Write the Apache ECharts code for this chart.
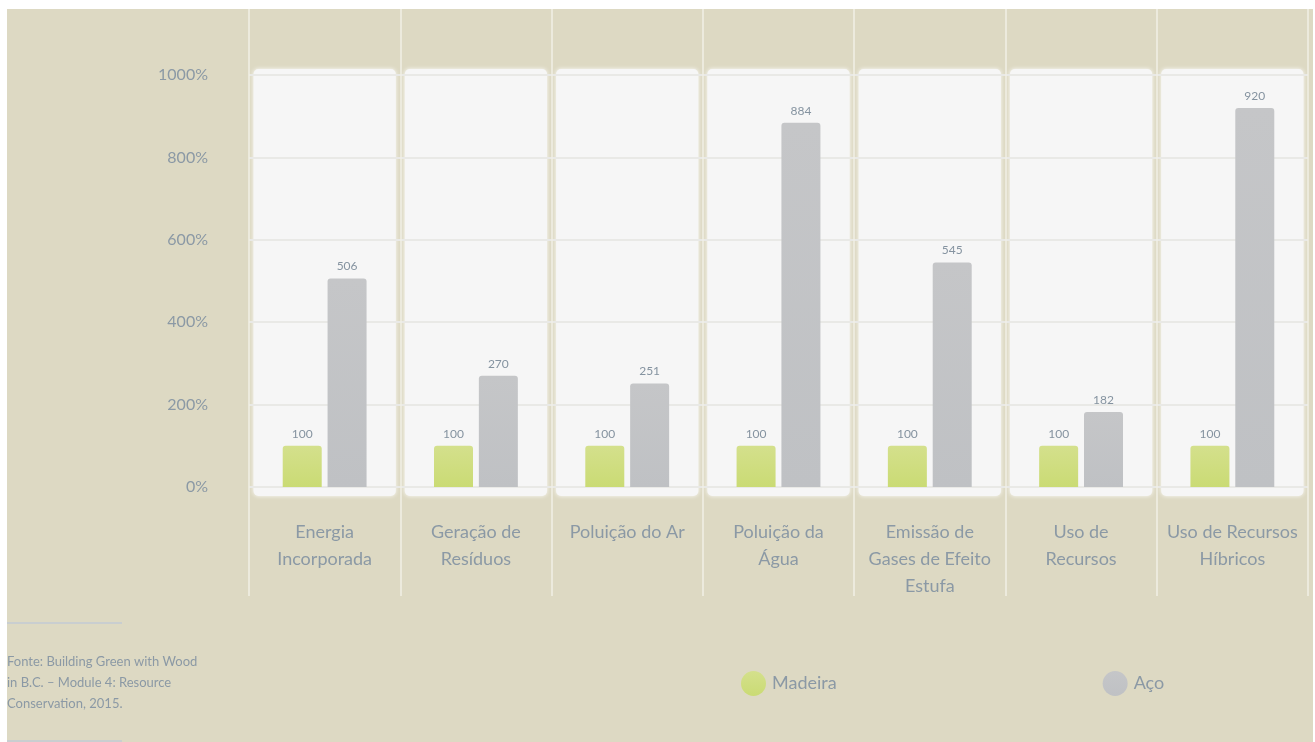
<!DOCTYPE html>
<html>
<head>
<meta charset="utf-8">
<script src="https://cdn.jsdelivr.net/npm/echarts@6/dist/echarts.min.js"></script>
<style>
  html, body { margin: 0; padding: 0; background: #ffffff; }
  #main { width: 1315px; height: 742px; }
</style>
</head>
<body>
<div id="main"></div>
<script>
// categories (x axis)
let categories = [
  'Energia\nIncorporada',
  'Geração de\nResíduos',
  'Poluição do Ar',
  'Poluição da\nÁgua',
  'Emissão de\nGases de Efeito\nEstufa',
  'Uso de\nRecursos',
  'Uso de Recursos\nHíbricos'
];
// series values (%)
let madeira = [100, 100, 100, 100, 100, 100, 100];
let aco = [506, 270, 251, 884, 545, 182, 920];
let seriesNames = ['Madeira', 'Aço'];
let yTicks = [0, 200, 400, 600, 800, 1000];

let textColor = '#8b99a5';
let font = 'Lato, "Open Sans", sans-serif';

let chart = echarts.init(document.getElementById('main'));

// white panel behind each category
const renderPanel = (params, api) => {
  let idx = api.value(0);
  let center = api.coord([idx, 0]);
  let band = api.size([1, 0])[0];
  let top = api.coord([idx, yTicks[yTicks.length - 1]])[1] - 6;
  let bottom = center[1] + 9;
  let inset = 4.5;
  return {
    type: 'rect',
    shape: { x: center[0] - band / 2 + inset, y: top, width: band - inset * 2, height: bottom - top, r: 5 },
    style: {
      fill: '#f6f6f6',
      shadowBlur: 4,
      shadowColor: 'rgba(255,255,255,0.9)'
    }
  };
}

const barGradient = (top, bottom) => {
  return new echarts.graphic.LinearGradient(0, 0, 0, 1, [
    { offset: 0, color: top },
    { offset: 1, color: bottom }
  ]);
}

let option = {
  backgroundColor: '#ffffff',
  animation: false,
  textStyle: { fontFamily: font },
  graphic: [
    { type: 'rect', z: -10, shape: { x: 7, y: 9, width: 1306, height: 733 }, style: { fill: '#ddd9c3' } },
    { type: 'line', shape: { x1: 7, y1: 623, x2: 122, y2: 623 }, style: { stroke: '#c9ced0', lineWidth: 2 } },
    { type: 'line', shape: { x1: 7, y1: 741, x2: 122, y2: 741 }, style: { stroke: '#c9ced0', lineWidth: 2 } },
    {
      type: 'text', left: 7, top: 651,
      style: {
        text: 'Fonte: Building Green with Wood\nin B.C. – Module 4: Resource\nConservation, 2015.',
        fill: textColor, fontSize: 13, lineHeight: 21, fontFamily: font
      }
    }
  ],
  legend: {
    left: 736,
    top: 666,
    icon: 'circle',
    itemWidth: 25,
    itemHeight: 25,
    itemGap: 266,
    data: seriesNames,
    textStyle: { color: textColor, fontSize: 18, fontFamily: font, padding: [0, 0, 0, 1] }
  },
  grid: [
    { left: 249, right: 7, top: 75, bottom: 255 },
    { left: 249, right: 7, top: 9, bottom: 146 }
  ],
  xAxis: [
    {
      type: 'category',
      gridIndex: 0,
      data: categories,
      axisLine: { show: false },
      axisTick: { show: false },
      axisLabel: { color: textColor, fontSize: 18, lineHeight: 27, margin: 32, interval: 0, fontFamily: font }
    },
    {
      type: 'category',
      gridIndex: 1,
      data: categories,
      axisLine: { show: false },
      axisTick: { show: false },
      axisLabel: { show: false },
      splitLine: { show: true, lineStyle: { color: '#f1efe6', width: 1.5 } }
    }
  ],
  yAxis: [
    {
      type: 'value',
      gridIndex: 0,
      min: 0,
      max: 1000,
      interval: 200,
      axisLabel: { formatter: (v) => v + '%', color: textColor, fontSize: 16, margin: 41, fontFamily: font },
      splitLine: { lineStyle: { color: '#e9e9e6', width: 2 } }
    },
    { type: 'value', gridIndex: 1, show: false, splitLine: { show: false } }
  ],
  series: [
    {
      type: 'custom',
      xAxisIndex: 0,
      yAxisIndex: 0,
      z: -1,
      silent: true,
      renderItem: renderPanel,
      data: categories.map((c, i) => [i])
    },
    {
      name: seriesNames[0],
      type: 'bar',
      xAxisIndex: 0,
      yAxisIndex: 0,
      barWidth: 39,
      barGap: '15%',
      data: madeira,
      itemStyle: { color: barGradient('#d4e08c', '#cadb74'), borderRadius: [3, 3, 0, 0] },
      label: { show: true, position: 'top', distance: 6, color: '#8593a0', fontSize: 12, fontFamily: font }
    },
    {
      name: seriesNames[1],
      type: 'bar',
      xAxisIndex: 0,
      yAxisIndex: 0,
      barWidth: 39,
      data: aco,
      itemStyle: { color: barGradient('#c5c6c8', '#bfc1c4'), borderRadius: [3, 3, 0, 0] },
      label: { show: true, position: 'top', distance: 6, color: '#8593a0', fontSize: 12, fontFamily: font }
    }
  ]
};

chart.setOption(option);
</script>
</body>
</html>
